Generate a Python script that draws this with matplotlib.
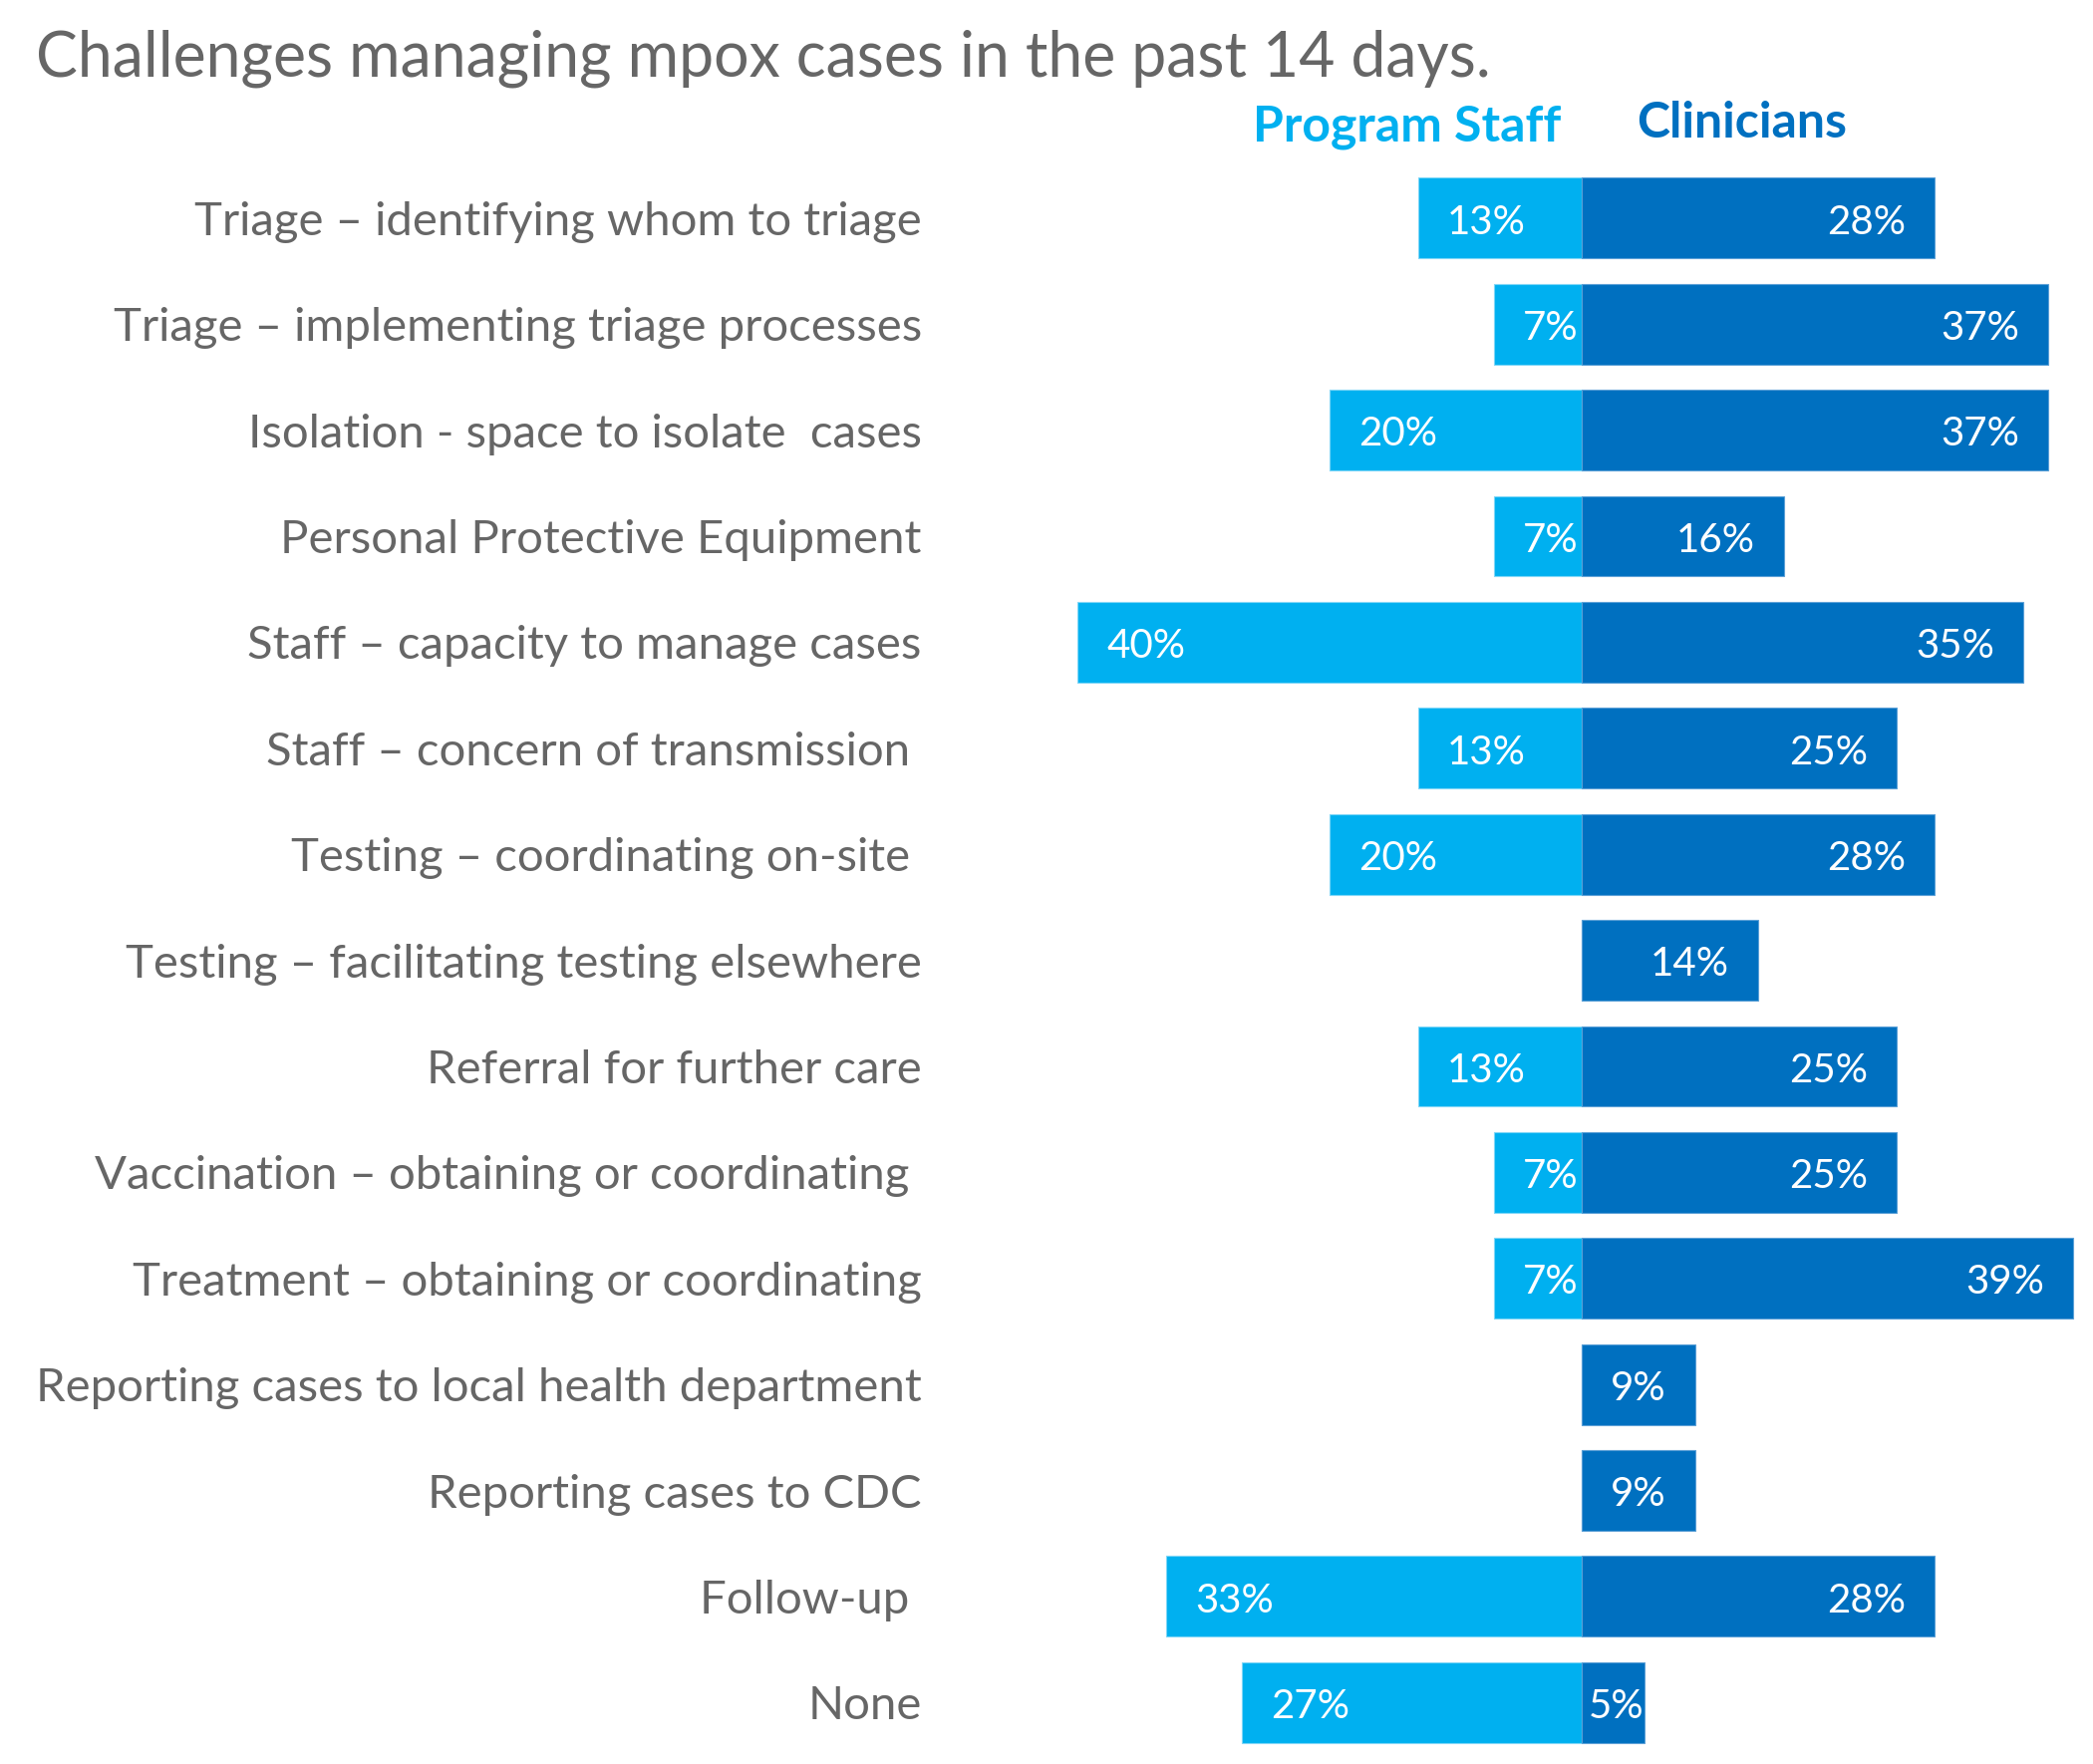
import matplotlib
matplotlib.use("Agg")
import matplotlib.pyplot as plt

plt.rcParams['font.family'] = ['Lato', 'DejaVu Sans']

categories = [
    "Triage \u2013 identifying whom to triage",
    "Triage \u2013 implementing triage processes",
    "Isolation - space to isolate  cases",
    "Personal Protective Equipment",
    "Staff \u2013 capacity to manage cases",
    "Staff \u2013 concern of transmission ",
    "Testing \u2013 coordinating on-site ",
    "Testing \u2013 facilitating testing elsewhere",
    "Referral for further care",
    "Vaccination \u2013 obtaining or coordinating ",
    "Treatment \u2013 obtaining or coordinating",
    "Reporting cases to local health department",
    "Reporting cases to CDC",
    "Follow-up ",
    "None",
]
program_staff = [13, 7, 20, 7, 40, 13, 20, 0, 13, 7, 7, 0, 0, 33, 27]
clinicians = [28, 37, 37, 16, 35, 25, 28, 14, 25, 25, 39, 9, 9, 28, 5]

LIGHT = '#00B0F0'
DARK = '#0070C0'
GRAY = '#666666'

fig = plt.figure(figsize=(21, 17.7), dpi=100)
ax = fig.add_axes([0.449, 0.0, 0.551, 0.907])

ypos = list(range(len(categories)))
ax.barh(ypos, [-v for v in program_staff], height=0.76, color=LIGHT,
        edgecolor='#7fd6f7', linewidth=0.8)
ax.barh(ypos, clinicians, height=0.76, color=DARK,
        edgecolor='#5a9fd6', linewidth=0.8)

# value labels, nudged a bit down to sit in the middle of the bar
dy = 0.04
for y, v in zip(ypos, program_staff):
    if v > 0:
        ax.text(-v + 2.3, y + dy, f"{v}%", ha='left', va='center',
                color='white', fontsize=29)
for y, v in zip(ypos, clinicians):
    if v >= 9:
        ax.text(v - 2.3, y + dy, f"{v}%", ha='right', va='center',
                color='white', fontsize=29)
    else:
        ax.text(0.5, y + dy, f"{v}%", ha='left', va='center',
                color='white', fontsize=29)

ax.set_xlim(-50.95, 40.55)
ax.set_ylim(14.58, -0.51)
ax.set_yticks(ypos)
ax.set_yticklabels(categories, fontsize=34, color=GRAY)
ax.tick_params(axis='y', length=0, pad=13)
ax.set_xticks([])
for s in ax.spines.values():
    s.set_visible(False)

fig.text(0.017, 0.967, "Challenges managing mpox cases in the past 14 days.",
         fontsize=45, color=GRAY, ha='left', va='center')
fig.text(0.746, 0.928, "Program Staff", fontsize=36, fontweight='bold',
         color=LIGHT, ha='right', va='center')
fig.text(0.782, 0.930, "Clinicians", fontsize=36, fontweight='bold',
         color=DARK, ha='left', va='center')

fig.savefig("out.png", dpi=100)
